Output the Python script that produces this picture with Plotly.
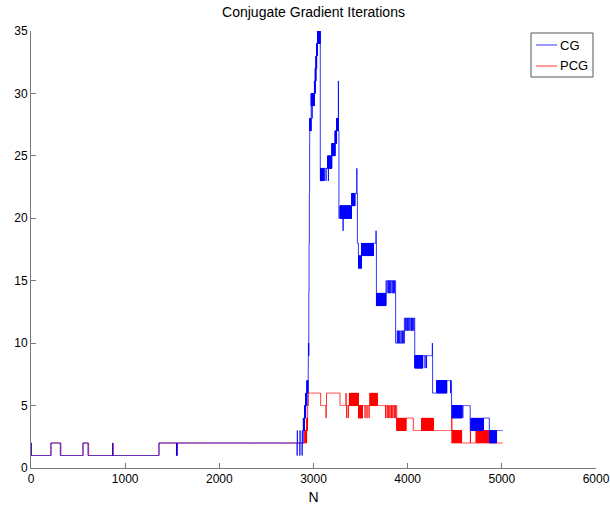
import numpy as np
import plotly.graph_objects as go

N_LAST = 5010

# ---------------- CG ----------------
# step changes: first N at which the iteration count takes the new value
cg_step_n = [0, 4, 212, 311, 552, 605, 1359, 2892, 2905, 2918, 2930, 2942, 2944, 2945,
             2946, 2950, 2953, 2956, 2959, 2960, 2975, 3010, 3018, 3026, 3034, 3042,
             3072, 3112, 3195, 3229, 3245, 3270, 3405, 3440, 3466, 3477, 3511, 3636,
             3668, 3770, 3872, 3965, 4075, 4160, 4265, 4415, 4466, 4574, 4664, 4804,
             4867]
cg_step_v = [2, 1, 2, 1, 2, 1, 2, 3, 4, 5, 6, 7, 8, 9,
             10, 14, 18, 22, 26, 27, 29, 30, 31, 32, 33, 34,
             23, 24, 25, 26, 27, 20, 21, 22, 18, 16, 17, 18,
             13, 15, 10, 12, 8, 9, 6, 7, 4, 5, 3, 4,
             3]
# stretches where the count flips between two values (every k-th N takes the alternate value)
cg_band_start = [2892, 2905, 2918, 2930, 2946, 2960, 2975, 3010, 3018, 3026, 3034, 3044,
                 3072, 3150, 3195, 3229, 3245, 3282, 3405, 3477, 3511, 3671, 4078, 4309,
                 4474, 4673, 4870]
cg_band_end = [2905, 2918, 2930, 2942, 2950, 2975, 3010, 3018, 3026, 3034, 3042, 3072,
               3112, 3195, 3229, 3245, 3264, 3405, 3440, 3511, 3636, 3770, 4160, 4415,
               4574, 4804, 4945]
cg_band_base = [3, 4, 5, 6, 9, 27, 29, 30, 31, 32, 33, 34,
                23, 24, 25, 26, 27, 20, 21, 16, 17, 13, 8, 6,
                4, 3, 2]
cg_band_alt = [4, 5, 6, 7, 10, 28, 30, 31, 32, 33, 34, 35,
               24, 25, 26, 27, 28, 21, 22, 17, 18, 14, 9, 7,
               5, 4, 3]
cg_band_every = [2, 2, 2, 2, 2, 2, 2, 2, 2, 2, 2, 2,
                 2, 2, 2, 2, 2, 2, 3, 3, 2, 2, 2, 2,
                 2, 2, 2]
# isolated single-N excursions
cg_spike_n = [867, 1545, 1550, 2826, 2828, 2855, 2857, 2879, 2881, 2985, 3133, 3158,
              3264, 3314, 3460, 3664,
              3780, 3795, 3808, 3820, 3835, 3848, 3860,
              3890, 3902, 3915, 3930, 3945, 3958,
              3975, 3990, 4000, 4012, 4025, 4040, 4052, 4065,
              4184, 4200, 4262, 4455, 4585]
cg_spike_v = [2, 1, 1, 1, 3, 1, 3, 1, 3, 28, 23, 23,
              31, 19, 24, 19,
              14, 14, 14, 14, 14, 14, 14,
              11, 11, 11, 11, 11, 11,
              11, 11, 11, 11, 11, 11, 11, 11,
              8, 8, 10, 6, 4]

# ---------------- PCG ----------------
pcg_step_n = [0, 4, 212, 318, 552, 612, 1359, 2908, 2928, 2938, 2946, 3076, 3138,
              3282, 3983, 4060, 4468]
pcg_step_v = [2, 1, 2, 1, 2, 1, 2, 3, 4, 5, 6, 5, 6,
              5, 4, 3, 2]
pcg_band_start = [2908, 2928, 3381, 3477, 3600, 3884, 4149, 4474, 4726, 4786]
pcg_band_end = [2928, 2938, 3477, 3520, 3678, 3983, 4272, 4574, 4786, 4867]
pcg_band_base = [3, 4, 5, 4, 5, 3, 3, 2, 2, 2]
pcg_band_alt = [2, 3, 6, 5, 6, 4, 4, 3, 3, 3]
pcg_band_every = [2, 2, 2, 2, 2, 2, 2, 2, 7, 2]
pcg_spike_n = [870, 1545, 1550, 3133, 3345, 3352, 3370, 3547, 3568, 3590,
               3765, 3782, 3798, 3812, 3828, 3842, 3858, 3872, 4468, 4666]
pcg_spike_v = [2, 1, 1, 4, 6, 4, 4, 4, 4, 4,
               4, 4, 4, 4, 4, 4, 4, 4, 4, 3]

series_names = ["CG", "PCG"]
series_colors = ["#0000ff", "#ff0000"]


def iterations(step_n, step_v, b_start, b_end, b_base, b_alt, b_every, spike_n, spike_v):
    n = np.arange(0, N_LAST + 1)
    idx = np.searchsorted(np.array(step_n), n, side="right") - 1
    y = np.array(step_v)[idx]
    for s, e, base, alt, every in zip(b_start, b_end, b_base, b_alt, b_every):
        k = np.arange(s, e)
        y[s:e] = np.where((k - s) % every == 0, alt, base)
    for a, v in zip(spike_n, spike_v):
        y[a] = v
    return n, y


n_cg, y_cg = iterations(cg_step_n, cg_step_v, cg_band_start, cg_band_end, cg_band_base,
                        cg_band_alt, cg_band_every, cg_spike_n, cg_spike_v)
n_pcg, y_pcg = iterations(pcg_step_n, pcg_step_v, pcg_band_start, pcg_band_end, pcg_band_base,
                          pcg_band_alt, pcg_band_every, pcg_spike_n, pcg_spike_v)

fig = go.Figure()
# PCG first so the CG trace sits on top where the two coincide
fig.add_trace(go.Scatter(x=n_pcg, y=y_pcg, mode="lines", name=series_names[1],
                         line=dict(color=series_colors[1], width=0.8, shape="hv", simplify=False)))
fig.add_trace(go.Scatter(x=n_cg, y=y_cg, mode="lines", name=series_names[0],
                         line=dict(color=series_colors[0], width=0.8, shape="hv", simplify=False)))

axis_common = dict(showgrid=False, zeroline=False, showline=True, linecolor="#7a7a7a",
                   linewidth=1, ticks="inside", ticklen=5, tickcolor="#7a7a7a",
                   tickfont=dict(size=12, color="#000000"), mirror=False, automargin=False)

# compact boxed legend in the upper-right corner of the axes
W, H = 565.0, 437.0
def px_x(p):
    return (p - 31) / W
def px_y(p):
    return (468 - p) / H

shapes = [dict(type="rect", xref="paper", yref="paper",
               x0=px_x(531), x1=px_x(593), y0=px_y(77), y1=px_y(33),
               line=dict(color="#555555", width=1), fillcolor="white", layer="above")]
annotations = []
for i, (name, col) in enumerate(zip(series_names, series_colors)):
    yy = px_y(45 + 21 * i)
    shapes.append(dict(type="line", xref="paper", yref="paper",
                       x0=px_x(536), x1=px_x(557), y0=yy, y1=yy,
                       line=dict(color=col, width=0.8), layer="above"))
    annotations.append(dict(text=name, xref="paper", yref="paper", x=px_x(558), y=yy,
                            xanchor="left", yanchor="middle", showarrow=False,
                            font=dict(size=13, color="#000000")))

fig.update_layout(
    width=610, height=506,
    margin=dict(l=31, r=14, t=31, b=38),
    paper_bgcolor="white", plot_bgcolor="white",
    font=dict(family="Liberation Sans, Arial, sans-serif", size=12, color="#000000"),
    title=dict(text="Conjugate Gradient Iterations", x=0.5, xref="paper",
               y=1 - 12 / 506, yref="container", xanchor="center", yanchor="middle",
               font=dict(size=14)),
    xaxis=dict(range=[0, 6000], tickvals=[0, 1000, 2000, 3000, 4000, 5000, 6000],
               title=dict(text="N", standoff=6, font=dict(size=14)), **axis_common),
    yaxis=dict(range=[0, 35], tickvals=[0, 5, 10, 15, 20, 25, 30, 35], **axis_common),
    shapes=shapes,
    annotations=annotations,
    showlegend=False,
)

fig.write_html("out.html")
